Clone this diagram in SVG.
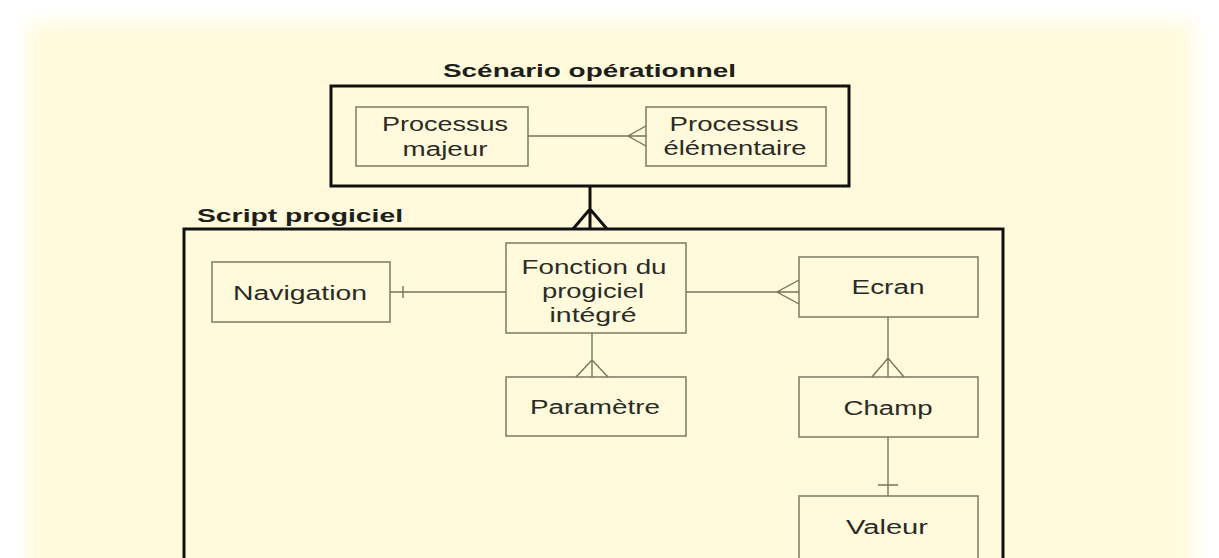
<svg xmlns="http://www.w3.org/2000/svg" width="1219" height="558" viewBox="0 0 1219 558">
  <defs>
    <filter id="soft" x="-5%" y="-5%" width="110%" height="110%">
      <feGaussianBlur stdDeviation="9"/>
    </filter>
    <style>
      .lbl { font-family: "Liberation Sans", Arial, sans-serif; font-size: 20px; fill: #2b2b26; text-anchor: middle; }
      .ttl { font-family: "Liberation Sans", Arial, sans-serif; font-size: 18px; font-weight: bold; fill: #1e1e1a; }
      .ent { fill: none; stroke: #85836b; stroke-width: 1.6; }
      .frame { fill: none; stroke: #111; stroke-width: 3; }
      .rel { fill: none; stroke: #76745e; stroke-width: 1.4; }
      .relb { fill: none; stroke: #111; stroke-width: 3; }
    </style>
  </defs>

  <!-- page background -->
  <rect width="1219" height="558" fill="#ffffff"/>
  <rect x="28" y="22" width="1164" height="560" fill="#fffadb" filter="url(#soft)"/>

  <!-- Scénario opérationnel frame -->
  <g id="scenario">
    <text class="ttl" x="443" y="77" textLength="293" lengthAdjust="spacingAndGlyphs">Scénario opérationnel</text>
    <rect class="frame" x="331" y="86" width="518" height="100"/>
  </g>

  <g id="processus-majeur">
    <rect class="ent" x="356" y="107" width="172" height="59"/>
    <text class="lbl" x="445" y="131" textLength="126" lengthAdjust="spacingAndGlyphs">Processus</text>
    <text class="lbl" x="445" y="156" textLength="85" lengthAdjust="spacingAndGlyphs">majeur</text>
  </g>

  <g id="processus-elementaire">
    <rect class="ent" x="646" y="107" width="180" height="59"/>
    <text class="lbl" x="734" y="131" textLength="129" lengthAdjust="spacingAndGlyphs">Processus</text>
    <text class="lbl" x="735" y="155" textLength="143" lengthAdjust="spacingAndGlyphs">élémentaire</text>
  </g>

  <!-- Script progiciel frame -->
  <g id="script">
    <text class="ttl" x="197" y="222" textLength="206" lengthAdjust="spacingAndGlyphs">Script progiciel</text>
    <rect class="frame" x="184" y="229" width="819" height="360"/>
  </g>

  <g id="navigation">
    <rect class="ent" x="212" y="262" width="178" height="60"/>
    <text class="lbl" x="300" y="300" textLength="134" lengthAdjust="spacingAndGlyphs">Navigation</text>
  </g>

  <g id="fonction">
    <rect class="ent" x="506" y="243" width="180" height="90"/>
    <text class="lbl" x="594" y="274" textLength="145" lengthAdjust="spacingAndGlyphs">Fonction du</text>
    <text class="lbl" x="593" y="298" textLength="102" lengthAdjust="spacingAndGlyphs">progiciel</text>
    <text class="lbl" x="593" y="322" textLength="87" lengthAdjust="spacingAndGlyphs">intégré</text>
  </g>

  <g id="parametre">
    <rect class="ent" x="506" y="377" width="180" height="59"/>
    <text class="lbl" x="595" y="414" textLength="130" lengthAdjust="spacingAndGlyphs">Paramètre</text>
  </g>

  <g id="ecran">
    <rect class="ent" x="799" y="257" width="179" height="60"/>
    <text class="lbl" x="888" y="294" textLength="73" lengthAdjust="spacingAndGlyphs">Ecran</text>
  </g>

  <g id="champ">
    <rect class="ent" x="799" y="377" width="179" height="60"/>
    <text class="lbl" x="888" y="415" textLength="89" lengthAdjust="spacingAndGlyphs">Champ</text>
  </g>

  <g id="valeur">
    <rect class="ent" x="799" y="496" width="179" height="80"/>
    <text class="lbl" x="887" y="534" textLength="82" lengthAdjust="spacingAndGlyphs">Valeur</text>
  </g>

  <!-- relationships (crow's foot notation) -->
  <g id="connectors">
    <!-- Scénario -> Script : many -->
    <path class="relb" d="M590 187 V229 M573 229 L590 209 L607 229"/>
    <!-- Processus majeur -> Processus élémentaire : many -->
    <path class="rel" d="M528 136 H646 M646 126 L628 136 L646 146"/>
    <!-- Fonction -> Navigation : one -->
    <path class="rel" d="M390 292 H506 M403 286 V298"/>
    <!-- Fonction -> Ecran : many -->
    <path class="rel" d="M686 292 H799 M799 280 L777 292 L799 304"/>
    <!-- Fonction -> Paramètre : many -->
    <path class="rel" d="M592 333 V377 M576 377 L592 360 L608 377"/>
    <!-- Ecran -> Champ : many -->
    <path class="rel" d="M888 317 V377 M872 377 L888 358 L904 377"/>
    <!-- Champ -> Valeur : one -->
    <path class="rel" d="M888 437 V496 M878 485 H898"/>
  </g>
</svg>
